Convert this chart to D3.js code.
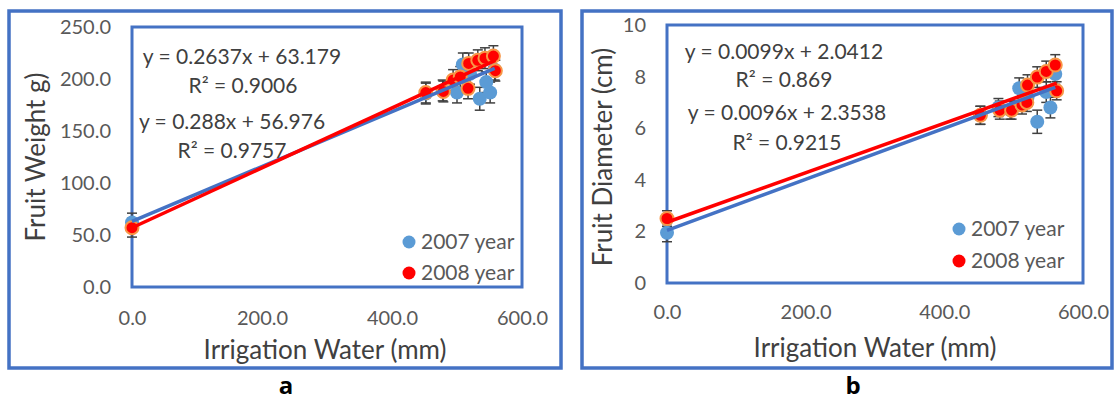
<!DOCTYPE html>
<html>
<head>
<meta charset="utf-8">
<script src="https://cdn.jsdelivr.net/npm/d3@7"></script>
<style>
  body { margin: 0; background: #fff; }
  svg { display: block; font-family: Lato, "Noto Sans", sans-serif; }
</style>
</head>
<body>
<svg id="chart" width="1115" height="400"></svg>
<script>
// x axis ticks shared by both panels
var waterTicks = [0, 200, 400, 600];
var weightTicks = [0, 50, 100, 150, 200, 250];
var diameterTicks = [0, 2, 4, 6, 8, 10];
var yearNames = ["2007 year", "2008 year"];

// panel a - fruit weight (g)
var waterA2007 = [0, 452, 478, 500, 509, 520, 535, 545, 551, 558];
var weightA2007 = [62, 186, 189, 187, 214, 205, 181, 197, 187, 209];
var weightErrA2007 = [9, 10, 10, 10, 11, 10, 11, 10, 10, 10];
var waterA2008 = [0, 452, 479, 494, 505, 517, 518, 532, 543, 556, 559];
var weightA2008 = [57, 187, 188, 199, 202, 191, 215, 218, 220, 222, 208];
var weightErrA2008 = [9, 10, 10, 10, 10, 10, 10, 10, 10, 10, 10];
var slopesA = [0.2637, 0.288];
var interceptsA = [63.179, 56.976];
var eqA = ["y = 0.2637x + 63.179", "R² = 0.9006", "y = 0.288x + 56.976", "R² = 0.9757"];

// panel b - fruit diameter (cm)
var waterB2007 = [0, 452, 478, 495, 508, 520, 534, 547, 553, 560];
var diamB2007 = [1.95, 6.5, 6.8, 6.7, 7.55, 7.2, 6.25, 7.4, 6.8, 8.1];
var diamErrB2007 = [0.35, 0.35, 0.35, 0.35, 0.4, 0.35, 0.45, 0.4, 0.4, 0.4];
var waterB2008 = [0, 452, 480, 497, 512, 519, 520, 534, 547, 560, 562];
var diamB2008 = [2.5, 6.5, 6.7, 6.7, 6.9, 7.0, 7.67, 7.98, 8.2, 8.45, 7.45];
var diamErrB2008 = [0.3, 0.35, 0.35, 0.35, 0.35, 0.35, 0.4, 0.4, 0.4, 0.4, 0.35];
var slopesB = [0.0099, 0.0096];
var interceptsB = [2.0412, 2.3538];
var eqB = ["y = 0.0099x + 2.0412", "R² = 0.869", "y = 0.0096x + 2.3538", "R² = 0.9215"];

var blue = "#5B9BD5", blueLine = "#4472C4", red = "#FF0000", orange = "#F79646";
var frameColor = "#4472C4", textGrey = "#404040", tickGrey = "#595959";

var svg = d3.select("#chart");

function zip(xs, ys, es) {
  return xs.map(function(v, i) { return {x: v, y: ys[i], e: es[i]}; });
}

function drawPanel(p) {
  var g = svg.append("g");

  // outer frame
  g.append("rect")
    .attr("x", p.frame[0]).attr("y", p.frame[1])
    .attr("width", p.frame[2] - p.frame[0]).attr("height", p.frame[3] - p.frame[1])
    .attr("fill", "none").attr("stroke", frameColor).attr("stroke-width", 3.5);

  var x = d3.scaleLinear().domain([0, 600]).range([p.left, p.right]);
  var y = d3.scaleLinear().domain([0, p.yTicks[p.yTicks.length - 1]]).range([p.bottom, p.top]);

  // plot area box
  g.append("rect")
    .attr("x", p.left).attr("y", p.top)
    .attr("width", p.right - p.left).attr("height", p.bottom - p.top)
    .attr("fill", "none").attr("stroke", frameColor).attr("stroke-width", 3);

  var yAxis = g.append("g")
    .attr("transform", "translate(" + p.left + ",0)")
    .call(d3.axisLeft(y).tickValues(p.yTicks).tickFormat(p.yFormat).tickSize(0).tickPadding(21));
  var xAxis = g.append("g")
    .attr("transform", "translate(0," + p.bottom + ")")
    .call(d3.axisBottom(x).tickValues(waterTicks).tickFormat(d3.format(".1f")).tickSize(0).tickPadding(p.xPad));
  [yAxis, xAxis].forEach(function(a) {
    a.select(".domain").remove();
    a.selectAll("text").attr("font-size", 20).attr("fill", tickGrey).attr("font-family", "Lato");
  });

  // axis titles
  g.append("text")
    .attr("x", p.xTitle[0]).attr("y", p.xTitle[1]).attr("dy", "0.35em")
    .attr("text-anchor", "middle").attr("font-size", 26).attr("fill", textGrey)
    .text("Irrigation Water (mm)");
  g.append("text")
    .attr("transform", "translate(" + p.yTitle[0] + "," + p.yTitle[1] + ") rotate(-90)")
    .attr("dy", "0.35em")
    .attr("text-anchor", "middle").attr("font-size", 26).attr("fill", textGrey)
    .text(p.yLabel);

  // error bars
  var series = [p.s2007, p.s2008];
  series.forEach(function(s) {
    var eb = g.append("g").attr("stroke", "#404040").attr("stroke-width", 1.5);
    eb.selectAll("line.v").data(s).enter().append("line")
      .attr("x1", function(d) { return x(d.x); }).attr("x2", function(d) { return x(d.x); })
      .attr("y1", function(d) { return y(d.y - d.e); }).attr("y2", function(d) { return y(d.y + d.e); });
    [-1, 1].forEach(function(sign) {
      eb.selectAll("line.c" + sign).data(s).enter().append("line")
        .attr("x1", function(d) { return x(d.x) - 5; }).attr("x2", function(d) { return x(d.x) + 5; })
        .attr("y1", function(d) { return y(d.y + sign * d.e); })
        .attr("y2", function(d) { return y(d.y + sign * d.e); });
    });
  });

  // markers
  g.selectAll("circle.b").data(p.s2007).enter().append("circle")
    .attr("cx", function(d) { return x(d.x); }).attr("cy", function(d) { return y(d.y); })
    .attr("r", 7).attr("fill", blue);
  g.selectAll("circle.r").data(p.s2008).enter().append("circle")
    .attr("cx", function(d) { return x(d.x); }).attr("cy", function(d) { return y(d.y); })
    .attr("r", 6.5).attr("fill", red).attr("stroke", orange).attr("stroke-width", 2);

  // linear trend lines
  var lineColors = [blueLine, red];
  series.forEach(function(s, i) {
    var xmax = d3.max(s, function(d) { return d.x; });
    g.append("line")
      .attr("x1", x(0)).attr("y1", y(p.intercepts[i]))
      .attr("x2", x(xmax)).attr("y2", y(p.slopes[i] * xmax + p.intercepts[i]))
      .attr("stroke", lineColors[i]).attr("stroke-width", 3.5);
  });

  // equations
  g.selectAll("text.eq").data(p.eqs).enter().append("text")
    .attr("x", function(d, i) { return p.eqPos[i][0]; })
    .attr("y", function(d, i) { return p.eqPos[i][1]; })
    .attr("dy", "0.35em").attr("text-anchor", "middle")
    .attr("font-size", 21).attr("fill", textGrey)
    .text(function(d) { return d; });

  // legend
  var leg = g.selectAll("g.leg").data(yearNames).enter().append("g")
    .attr("transform", function(d, i) { return "translate(" + p.legend[0] + "," + (p.legend[1] + i * p.legend[2]) + ")"; });
  leg.append("circle").attr("r", 6.5).attr("fill", function(d, i) { return i ? red : blue; });
  leg.append("text").attr("x", 12).attr("dy", "0.35em")
    .attr("font-size", 21).attr("fill", tickGrey)
    .text(function(d) { return d; });

  // panel letter
  g.append("text")
    .attr("x", p.letter[0]).attr("y", p.letter[1]).attr("dy", "0.35em")
    .attr("text-anchor", "middle").attr("font-size", 24).attr("font-weight", 700)
    .attr("font-family", "'Open Sans'").attr("fill", "#000")
    .text(p.letterText);
}

drawPanel({
  frame: [9, 11, 561, 368],
  left: 132, right: 522, top: 27, bottom: 287, xPad: 24,
  yTicks: weightTicks, yFormat: d3.format(".1f"), yLabel: "Fruit Weight g)",
  xTitle: [325, 350], yTitle: [36, 157],
  s2007: zip(waterA2007, weightA2007, weightErrA2007),
  s2008: zip(waterA2008, weightA2008, weightErrA2008),
  slopes: slopesA, intercepts: interceptsA,
  eqs: eqA, eqPos: [[242, 57], [243, 86], [232, 122], [232, 151]],
  legend: [409, 242, 31],
  letter: [286, 386], letterText: "a"
});

drawPanel({
  frame: [582, 11, 1112, 368],
  left: 667, right: 1083, top: 25, bottom: 283, xPad: 22,
  yTicks: diameterTicks, yFormat: d3.format("d"), yLabel: "Fruit Diameter (cm)",
  xTitle: [875, 348], yTitle: [603, 157],
  s2007: zip(waterB2007, diamB2007, diamErrB2007),
  s2008: zip(waterB2008, diamB2008, diamErrB2008),
  slopes: slopesB, intercepts: interceptsB,
  eqs: eqB, eqPos: [[784, 52], [784, 80], [787, 113], [787, 143]],
  legend: [959, 229, 32],
  letter: [853, 386], letterText: "b"
});
</script>
</body>
</html>
